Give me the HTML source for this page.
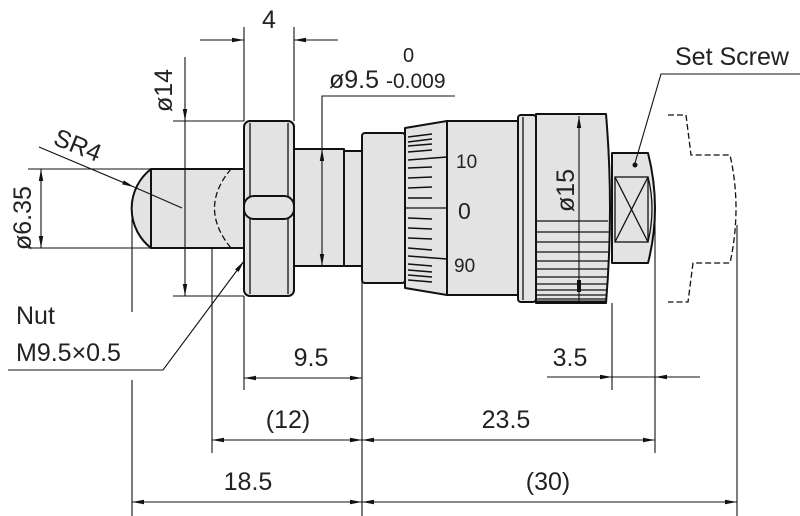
<!DOCTYPE html>
<html><head><meta charset="utf-8"><style>
html,body{margin:0;padding:0;background:#fff}
svg{display:block}
text{font-family:"Liberation Sans Narrow","Liberation Sans",sans-serif;fill:#222}
</style></head><body>
<svg width="800" height="516" viewBox="0 0 800 516" xmlns="http://www.w3.org/2000/svg">
<defs>
<marker id="a" viewBox="0 0 12 6" refX="12" refY="3" markerWidth="12" markerHeight="6" orient="auto-start-reverse" markerUnits="userSpaceOnUse"><path d="M0,0.8 L12,3 L0,5.2z" fill="#111"/></marker>
</defs>
<g fill="#e3e3e3" stroke="#111" stroke-width="2" stroke-linejoin="round">
<path d="M151,169 A50,50 0 0 0 151,248 Z"/>
<rect x="151" y="169" width="93" height="79"/>
<rect x="244" y="121" width="50" height="175" rx="6"/>
<rect x="294" y="149" width="50" height="117"/>
<rect x="344" y="151" width="18" height="115"/>
<rect x="362" y="133" width="43" height="150" rx="3"/>
<path d="M405,128 L447,121 L447,295 L405,288 Z"/>
<rect x="447" y="121" width="71" height="174"/>
<rect x="518" y="115" width="18" height="187" rx="3"/>
<path d="M536,114 L606,114 Q614,208 606,303 L536,303 Z"/>
<path d="M612,153 L648,153 Q662,208 648,263 L612,263 Z"/>
</g>
<g fill="none" stroke="#111" stroke-width="1.3">
<line x1="250" y1="123" x2="250" y2="294"/><line x1="288" y1="123" x2="288" y2="294"/>
<rect x="244" y="196" width="50" height="23" rx="10" fill="#e3e3e3" stroke-width="2"/>
<line x1="523" y1="117" x2="523" y2="300"/>
<path d="M231,169 Q198,208 231,248" stroke-dasharray="6,3"/>
<rect x="615" y="177" width="33" height="65"/>
<line x1="615" y1="177" x2="648" y2="242"/><line x1="648" y1="177" x2="615" y2="242"/>
<path d="M648,177 Q656,208 648,242"/>
<line x1="405" y1="208" x2="447" y2="208"/>
</g>
<circle cx="635" cy="165" r="2.5" fill="#111"/>
<g stroke="#111" stroke-width="1.4">
<line x1="408" y1="137" x2="432" y2="134"/><line x1="408" y1="142" x2="432" y2="139"/><line x1="408" y1="146" x2="432" y2="144"/><line x1="408" y1="152" x2="432" y2="150"/>
<line x1="408" y1="160" x2="447" y2="157"/>
<line x1="408" y1="168" x2="432" y2="167"/><line x1="408" y1="178" x2="432" y2="177"/><line x1="408" y1="188" x2="432" y2="187"/><line x1="408" y1="198" x2="432" y2="198"/>
<line x1="408" y1="218" x2="432" y2="219"/><line x1="408" y1="228" x2="432" y2="229"/><line x1="408" y1="238" x2="432" y2="239"/><line x1="408" y1="248" x2="432" y2="250"/>
<line x1="408" y1="256" x2="447" y2="259"/>
<line x1="408" y1="264" x2="432" y2="266"/><line x1="408" y1="270" x2="432" y2="272"/><line x1="408" y1="275" x2="432" y2="277"/><line x1="408" y1="280" x2="432" y2="282"/>
</g>
<g stroke="#111" stroke-width="1.2">
<line x1="536" y1="221" x2="608" y2="221"/><line x1="536" y1="232" x2="609" y2="232"/><line x1="536" y1="242" x2="609" y2="242"/><line x1="536" y1="252" x2="609" y2="252"/><line x1="536" y1="261" x2="609" y2="261"/><line x1="536" y1="269" x2="609" y2="269"/><line x1="536" y1="277" x2="608" y2="277"/><line x1="536" y1="284" x2="608" y2="284"/><line x1="536" y1="290" x2="607" y2="290"/><line x1="536" y1="295" x2="607" y2="295"/><line x1="536" y1="299" x2="607" y2="299"/>
</g>
<line x1="536" y1="302" x2="606" y2="302" stroke="#111" stroke-width="3"/>
<path d="M668,115 L686,115 L691,155 L730,155 Q742,208 730,263 L693,263 L688,302 L668,302" fill="none" stroke="#111" stroke-width="1.3" stroke-dasharray="6,3"/>
<g stroke="#111" stroke-width="1.1" fill="none">
<line x1="244" y1="27" x2="244" y2="121"/><line x1="294" y1="27" x2="294" y2="121"/>
<line x1="200" y1="40" x2="244" y2="40" marker-end="url(#a)"/><line x1="338" y1="40" x2="294" y2="40" marker-end="url(#a)"/>
<line x1="173" y1="121" x2="244" y2="121"/><line x1="173" y1="296" x2="244" y2="296"/>
<line x1="185" y1="57" x2="185" y2="121" marker-end="url(#a)"/><line x1="185" y1="121" x2="185" y2="296" marker-end="url(#a)"/>
<polyline points="455,96 322,96 322,149"/>
<line x1="322" y1="200" x2="322" y2="149" marker-end="url(#a)"/><line x1="322" y1="200" x2="322" y2="266" marker-end="url(#a)"/>
<line x1="28" y1="169" x2="151" y2="169"/><line x1="28" y1="248" x2="151" y2="248"/>
<line x1="41" y1="208" x2="41" y2="169" marker-end="url(#a)"/><line x1="41" y1="208" x2="41" y2="248" marker-end="url(#a)"/>
<line x1="39" y1="147" x2="134" y2="187" marker-end="url(#a)"/><line x1="134" y1="187" x2="182" y2="208"/>
<polyline points="8,370 163,370 244,261" marker-end="url(#a)"/>
<line x1="132" y1="210" x2="132" y2="312"/><line x1="132" y1="380" x2="132" y2="516"/>
<line x1="212" y1="248" x2="212" y2="453"/>
<line x1="244" y1="296" x2="244" y2="390"/>
<line x1="362" y1="266" x2="362" y2="516"/>
<line x1="612" y1="303" x2="612" y2="390"/>
<line x1="655" y1="215" x2="655" y2="453"/>
<line x1="737" y1="225" x2="737" y2="516"/>
<line x1="303" y1="378" x2="244" y2="378" marker-end="url(#a)"/><line x1="303" y1="378" x2="362" y2="378" marker-end="url(#a)"/>
<line x1="287" y1="440" x2="212" y2="440" marker-end="url(#a)"/><line x1="287" y1="440" x2="362" y2="440" marker-end="url(#a)"/>
<line x1="508" y1="440" x2="362" y2="440" marker-end="url(#a)"/><line x1="508" y1="440" x2="655" y2="440" marker-end="url(#a)"/>
<line x1="247" y1="502" x2="132" y2="502" marker-end="url(#a)"/><line x1="247" y1="502" x2="362" y2="502" marker-end="url(#a)"/>
<line x1="550" y1="502" x2="362" y2="502" marker-end="url(#a)"/><line x1="550" y1="502" x2="737" y2="502" marker-end="url(#a)"/>
<line x1="547" y1="377" x2="612" y2="377" marker-end="url(#a)"/><line x1="700" y1="377" x2="655" y2="377" marker-end="url(#a)"/>
<line x1="612" y1="377" x2="655" y2="377"/>
<line x1="579" y1="200" x2="579" y2="116" marker-end="url(#a)"/><line x1="579" y1="200" x2="579" y2="302"/>
<polyline points="800,74 661,74 635,163"/>
</g>
<rect x="577" y="280" width="4" height="12" fill="#111"/>
<g font-size="25">
<text x="269" y="28" text-anchor="middle">4</text>
<text x="329" y="88">ø9.5</text>
<text x="403" y="62" font-size="20">0</text>
<text x="386" y="88" font-size="21">-0.009</text>
<text transform="translate(172,112) rotate(-90)">ø14</text>
<text transform="translate(31,250) rotate(-90)">ø6.35</text>
<text transform="translate(52,144) rotate(22)">SR4</text>
<text x="16" y="324">Nut</text>
<text x="16" y="361">M9.5×0.5</text>
<text x="311" y="366" text-anchor="middle">9.5</text>
<text x="288" y="428" text-anchor="middle">(12)</text>
<text x="248" y="490" text-anchor="middle">18.5</text>
<text x="506" y="428" text-anchor="middle">23.5</text>
<text x="548" y="490" text-anchor="middle">(30)</text>
<text x="570" y="366" text-anchor="middle">3.5</text>
<text x="675" y="65">Set Screw</text>
<text transform="translate(574,212) rotate(-90)">ø15</text>
<text x="456" y="168" font-size="19">10</text>
<text x="458" y="219" font-size="23">0</text>
<text x="454" y="272" font-size="19">90</text>
</g>
</svg>
</body></html>
